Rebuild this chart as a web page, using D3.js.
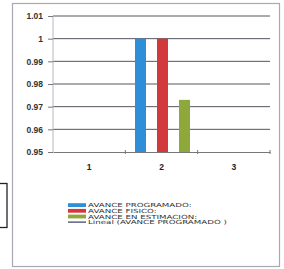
<!DOCTYPE html>
<html>
<head>
<meta charset="utf-8">
<script src="https://cdn.jsdelivr.net/npm/d3@7"></script>
<style>
  body { margin: 0; background: #fff; }
  svg { display: block; font-family: "DejaVu Sans", sans-serif; }
</style>
</head>
<body>
<svg id="chart" width="284" height="269"></svg>
<script>
// data
const categorias = ["1", "2", "3"];
const series = ["AVANCE PROGRAMADO:", "AVANCE FISICO:", "AVANCE EN ESTIMACION:"];
const programado = [0, 1, 0];
const fisico = [0, 1, 0];
const estimacion = [0, 0.973, 0];
const yTicks = [0.95, 0.96, 0.97, 0.98, 0.99, 1, 1.01];
const leyenda = ["AVANCE PROGRAMADO:", "AVANCE FISICO:", "AVANCE EN ESTIMACION:", "Lineal (AVANCE PROGRAMADO )"];

const colores = ["#2f8ed8", "#d2393f", "#8ea83c"];

let margin = { top: 16, right: 14, bottom: 117, left: 53 },
    width = 284 - margin.left - margin.right,
    height = 269 - margin.top - margin.bottom;

const svg = d3.select("#chart");

// outer frame of the chart and the little box on the left
svg.append("rect")
    .attr("x", 12.5).attr("y", 3.5)
    .attr("width", 267).attr("height", 263)
    .attr("fill", "#fff").attr("stroke", "#a9a9b3").attr("stroke-width", 1.2);

svg.append("rect")
    .attr("x", -5).attr("y", 183.5)
    .attr("width", 12).attr("height", 44)
    .attr("fill", "none").attr("stroke", "#222").attr("stroke-width", 1.3);

const g = svg.append("g").attr("transform", `translate(${margin.left},${margin.top})`);

let x = d3.scaleBand().domain(categorias).range([0, width]);
let x1 = d3.scaleBand().domain(series)
    .range([x.bandwidth() / 2 - 26.5, x.bandwidth() / 2 + 28.5])
    .paddingInner(0.5).paddingOuter(0);
let y = d3.scaleLinear().domain([0.95, 1.01]).range([height, 0]);

// gridlines
g.selectAll(".grid").data(yTicks.slice(1)).join("line")
    .attr("x1", 0).attr("x2", width)
    .attr("y1", d => y(d)).attr("y2", d => y(d))
    .attr("stroke", "#55555f").attr("stroke-width", 1);

// bars
const valores = [programado, fisico, estimacion];
svg.append("clipPath").attr("id", "area").append("rect")
    .attr("width", width).attr("height", height);

const barras = g.append("g").attr("clip-path", "url(#area)");
series.forEach((s, i) => {
    barras.selectAll(".b" + i).data(categorias).join("rect")
        .attr("x", d => x(d) + x1(s))
        .attr("width", x1.bandwidth())
        .attr("y", (d, j) => y(Math.max(valores[i][j], 0.95)))
        .attr("height", (d, j) => height - y(Math.max(valores[i][j], 0.95)))
        .attr("fill", colores[i]);
});

// linear trend of AVANCE PROGRAMADO (falls below the axis range)
const xs = [1, 2, 3];
const mx = d3.mean(xs), my = d3.mean(programado);
const pend = d3.sum(xs, (v, i) => (v - mx) * (programado[i] - my)) / d3.sum(xs, v => (v - mx) ** 2);
const tendencia = xs.map(v => my + pend * (v - mx));
barras.append("path")
    .datum(tendencia)
    .attr("fill", "none").attr("stroke", "#333a66").attr("stroke-width", 1.2)
    .attr("d", d3.line().x((d, i) => x(categorias[i]) + x.bandwidth() / 2).y(d => y(d)));

// axes
g.append("line").attr("x1", 0).attr("x2", 0).attr("y1", 0).attr("y2", height)
    .attr("stroke", "#b8b8c0");

const ejeX = g.append("g")
    .attr("transform", `translate(0,${height})`)
    .call(d3.axisBottom(x).tickSize(0).tickPadding(12));
ejeX.select(".domain").attr("stroke", "#777");
ejeX.selectAll("text").attr("font-size", 8.5).attr("font-weight", "bold").attr("fill", "#222");

g.selectAll(".sep").data([1, 2, 3]).join("line")
    .attr("x1", d => d * x.bandwidth()).attr("x2", d => d * x.bandwidth())
    .attr("y1", height - 2).attr("y2", height + 2)
    .attr("stroke", "#777");

const ejeY = g.append("g")
    .call(d3.axisLeft(y).tickValues(yTicks).tickSize(5).tickPadding(5).tickFormat(d3.format("")));
ejeY.select(".domain").remove();
ejeY.selectAll("line").attr("stroke", "#777");
ejeY.selectAll("text").attr("font-size", 8.5).attr("font-weight", "bold").attr("fill", "#333");

// legend
const ley = svg.append("g").attr("transform", "translate(68,205)");
leyenda.forEach((t, i) => {
    const fila = ley.append("g").attr("transform", `translate(0,${i * 5.7})`);
    if (i < 3) {
        fila.append("rect").attr("x", 0).attr("y", -1.8).attr("width", 18).attr("height", 3.8)
            .attr("fill", colores[i]);
    } else {
        fila.append("line").attr("x1", 0).attr("x2", 18).attr("y1", 0).attr("y2", 0)
            .attr("stroke", "#333a66").attr("stroke-width", 1.2);
    }
    fila.append("text")
        .attr("transform", "translate(20,2.2) scale(1.55,1)")
        .attr("font-size", 5.6).attr("fill", "#333").text(t);
});
</script>
</body>
</html>
